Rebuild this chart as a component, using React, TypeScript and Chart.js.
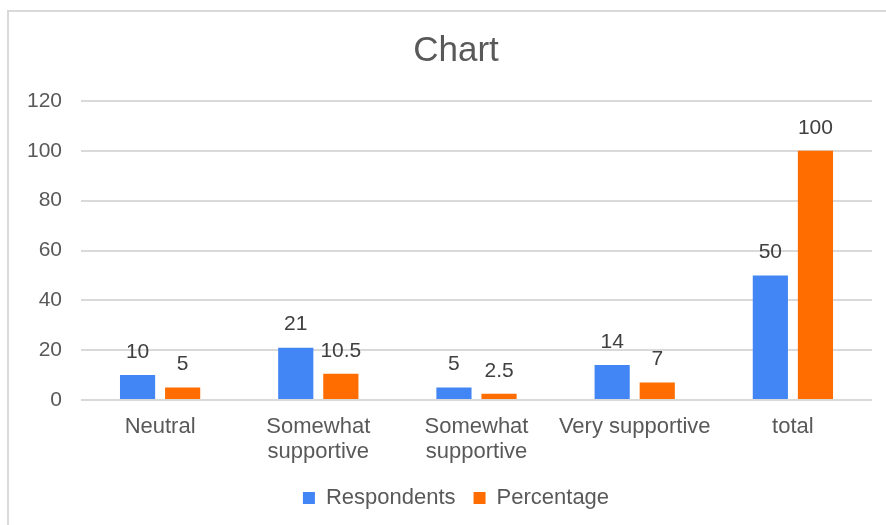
import React, { useEffect, useRef } from "react";
import { Chart, registerables } from "chart.js";

Chart.register(...registerables);

const categories: (string | string[])[] = [
  "Neutral",
  ["Somewhat", "supportive"],
  ["Somewhat", "supportive"],
  "Very supportive",
  "total",
];
const respondents = [10, 21, 5, 14, 50];
const percentage = [5, 10.5, 2.5, 7, 100];
const yTicks = [0, 20, 40, 60, 80, 100, 120];

const FONT = "'Liberation Sans', Arial, sans-serif";

// Writes each bar's value just above it.
const valueLabels = {
  id: "valueLabels",
  afterDatasetsDraw(chart: any) {
    const ctx = chart.ctx;
    ctx.save();
    ctx.font = `21px ${FONT}`;
    ctx.fillStyle = "#404040";
    ctx.textAlign = "center";
    ctx.textBaseline = "middle";
    chart.data.datasets.forEach((ds: any, di: number) => {
      const meta = chart.getDatasetMeta(di);
      meta.data.forEach((bar: any, i: number) => {
        ctx.fillText(String(ds.data[i]), bar.x, bar.y - 23);
      });
    });
    ctx.restore();
  },
};

// Centres the title and legend on the framed panel rather than on the canvas.
const panelCentre = {
  id: "panelCentre",
  afterLayout(chart: any) {
    const left = 40;
    const right = chart.chartArea.right;
    [chart.titleBlock, chart.legend].forEach((box: any) => {
      if (!box) return;
      box.left = left;
      box.right = right;
      box.width = right - left;
    });
  },
};

export default function App() {
  const canvasRef = useRef<HTMLCanvasElement | null>(null);

  useEffect(() => {
    if (!canvasRef.current) return;
    const chart = new Chart(canvasRef.current, {
      type: "bar",
      data: {
        labels: categories,
        datasets: [
          {
            label: "Respondents",
            data: respondents,
            backgroundColor: "#4285F4",
            barPercentage: 0.78,
            categoryPercentage: 0.57,
          },
          {
            label: "Percentage",
            data: percentage,
            backgroundColor: "#FF6D01",
            barPercentage: 0.78,
            categoryPercentage: 0.57,
          },
        ],
      },
      options: {
        animation: false,
        responsive: false,
        maintainAspectRatio: false,
        layout: { padding: { left: 0, right: 14, top: 0, bottom: 6 } },
        plugins: {
          title: {
            display: true,
            text: "Chart",
            color: "#595959",
            font: { family: FONT, size: 35, weight: "normal" },
            padding: { top: 30.5, bottom: 28.5 },
          },
          legend: {
            position: "bottom",
            labels: {
              color: "#595959",
              font: { family: FONT, size: 22 },
              boxWidth: 12,
              boxHeight: 12,
              padding: 18,
            },
          },
          tooltip: { enabled: false },
        },
        scales: {
          x: {
            grid: { display: false, drawTicks: false },
            border: { display: false },
            ticks: {
              color: "#595959",
              font: { family: FONT, size: 22, lineHeight: 1.15 },
              padding: 14,
              maxRotation: 0,
              autoSkip: false,
            },
            afterFit(scale: any) {
              scale.height = 69;
            },
          },
          y: {
            min: 0,
            max: 120,
            afterBuildTicks(scale: any) {
              scale.ticks = yTicks.map((v) => ({ value: v }));
            },
            grid: { color: "#d9d9d9", lineWidth: 2, drawTicks: false },
            border: { display: false },
            ticks: {
              color: "#595959",
              font: { family: FONT, size: 21 },
              padding: 19,
            },
            afterFit(scale: any) {
              scale.width = 81;
            },
          },
        },
      },
      plugins: [valueLabels, panelCentre],
    });
    return () => chart.destroy();
  }, []);

  return (
    <div
      style={{
        position: "fixed",
        left: 0,
        top: 0,
        width: 886,
        height: 525,
        overflow: "hidden",
        background: "#fff",
      }}
    >
      <div
        style={{
          position: "absolute",
          left: 7,
          top: 10,
          width: 900,
          height: 540,
          border: "2px solid #d9d9d9",
          boxSizing: "border-box",
        }}
      />
      <canvas
        ref={canvasRef}
        width={886}
        height={525}
        style={{ position: "absolute", left: 0, top: 0 }}
      />
    </div>
  );
}
